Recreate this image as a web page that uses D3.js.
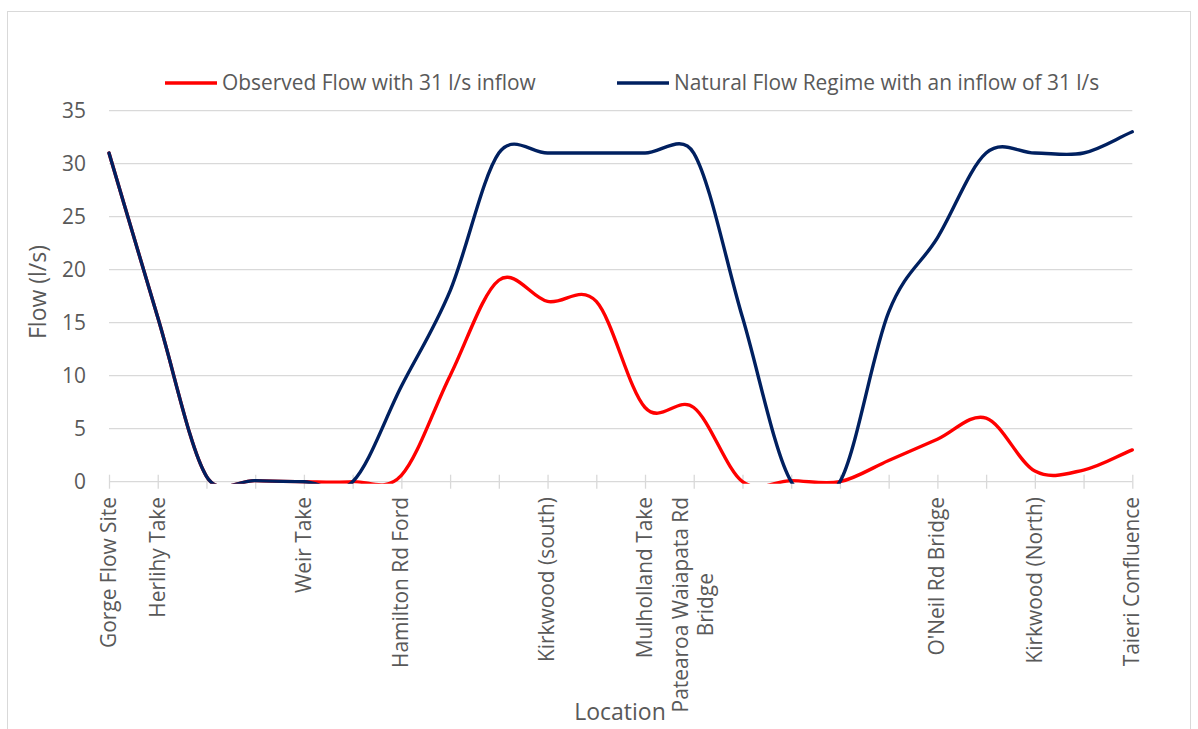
<!DOCTYPE html>
<html>
<head>
<meta charset="utf-8">
<script src="https://cdn.jsdelivr.net/npm/d3@7"></script>
<style>
  html, body { margin: 0; padding: 0; background: #fff; }
  svg text { font-family: "Open Sans", "Liberation Sans", sans-serif; fill: #595959; }
</style>
</head>
<body>
<svg id="chart" width="1198" height="729"></svg>
<script>
// Monitoring locations along the river, upstream to downstream
const categories = [
  "Gorge Flow Site", "Herlihy Take", "", "", "Weir Take", "", "Hamilton Rd Ford",
  "", "", "Kirkwood (south)", "", "Mulholland Take", "Patearoa Waiapata Rd Bridge",
  "", "", "", "", "O'Neil Rd Bridge", "", "Kirkwood (North)", "", "Taieri Confluence"
];

// Flow (l/s) at each location
const observedFlow = [31, 15.5, 0.5, 0.1, 0, 0, 0.6, 10, 19, 17, 17, 7, 7, 0, 0.1, 0, 2, 4, 6, 1, 1.1, 3];
const naturalFlow  = [31, 15.5, 0.5, 0.1, 0, 0, 9, 18, 31, 31, 31, 31, 31, 15.5, 0, 0, 16, 23, 31, 31, 31, 33];

const seriesNames = ["Observed Flow with 31 l/s inflow", "Natural Flow Regime with an inflow of 31 l/s"];
const seriesColors = ["#FF0000", "#002060"];
const yTicks = [0, 5, 10, 15, 20, 25, 30, 35];

const svg = d3.select("#chart");
const fontSize = 20.9;
const titleSize = 23;

// Chart area border
svg.append("rect")
  .attr("x", 7.5).attr("y", 11.5)
  .attr("width", 1183).attr("height", 740)
  .attr("fill", "none").attr("stroke", "#d9d9d9").attr("stroke-width", 1);

const x = d3.scalePoint().domain(d3.range(categories.length)).range([109, 1132.3]);
const y = d3.scaleLinear().domain([0, 35]).range([481.7, 110.6]);

// Plot area clip: lines do not extend below the value axis
svg.append("defs").append("clipPath").attr("id", "plotClip")
  .append("rect")
  .attr("x", x.range()[0] - 10).attr("y", y(35) - 10)
  .attr("width", x.range()[1] - x.range()[0] + 20)
  .attr("height", y(0) - y(35) + 12);

// Horizontal gridlines
svg.append("g").selectAll("line").data(yTicks.filter(d => d > 0)).join("line")
  .attr("x1", x.range()[0]).attr("x2", x.range()[1])
  .attr("y1", d => y(d)).attr("y2", d => y(d))
  .attr("stroke", "#d9d9d9").attr("stroke-width", 1.3);

// Y axis labels
const yAxis = svg.append("g").attr("transform", `translate(86,0)`)
  .call(d3.axisLeft(y).tickValues(yTicks).tickSize(0).tickPadding(0));
yAxis.select(".domain").remove();
yAxis.selectAll("text").style("font-size", fontSize + "px").attr("fill", "#595959")
  .style("font-family", "'Open Sans', sans-serif");

// X axis with crossing tick marks
const xAxisG = svg.append("g").attr("transform", `translate(0,${y(0)})`)
  .call(d3.axisBottom(x).tickSize(7).tickFormat(""));
xAxisG.select(".domain").attr("stroke", "#d9d9d9").attr("stroke-width", 1.3)
  .attr("d", `M${x.range()[0]},0H${x.range()[1]}`);
xAxisG.selectAll(".tick line").attr("stroke", "#d9d9d9").attr("stroke-width", 1.3)
  .attr("y1", -7).attr("y2", 7);

// Rotated category labels, wrapped when too long
const labelTop = 497;
const maxLabelLen = 232;
const labelG = svg.append("g");
const measure = svg.append("text").style("font-size", fontSize + "px").attr("opacity", 0);
function textLen(s) { measure.text(s); return measure.node().getComputedTextLength(); }
function wrap(label) {
  const words = label.split(" ");
  const lines = [];
  let cur = "";
  words.forEach(w => {
    const trial = cur ? cur + " " + w : w;
    if (cur && textLen(trial) > maxLabelLen) { lines.push(cur); cur = w; }
    else cur = trial;
  });
  if (cur) lines.push(cur);
  return lines;
}
const lineH = 25;
categories.forEach((c, i) => {
  if (!c) return;
  const lines = wrap(c);
  const blockLen = d3.max(lines, textLen);
  const cx = x(i);
  lines.forEach((ln, k) => {
    const off = (k - (lines.length - 1) / 2) * lineH;
    labelG.append("text")
      .attr("transform", `translate(${cx + off + fontSize * 0.33},${labelTop + blockLen / 2}) rotate(-90)`)
      .attr("text-anchor", "middle")
      .style("font-size", fontSize + "px")
      .text(ln);
  });
});
measure.remove();

// Smoothed line path in the style of spreadsheet "smoothed line" charts
function smoothPath(pts) {
  const n = pts.length;
  const dist = (a, b) => Math.hypot(a[0] - b[0], a[1] - b[1]);
  let d = `M${pts[0][0]},${pts[0][1]}`;
  for (let i = 0; i < n - 1; i++) {
    const p0 = pts[Math.max(i - 1, 0)], p1 = pts[i], p2 = pts[i + 1], p3 = pts[Math.min(i + 2, n - 1)];
    const d02 = dist(p0, p2), d12 = dist(p1, p2), d13 = dist(p1, p3);
    let f = (i === 0) ? 1 / 3 : 1 / 6;
    let g = (i + 2 > n - 1) ? 1 / 3 : 1 / 6;
    if (d02 * f >= d12 / 2 && d02 > 0) f = d12 / d02 / 2;
    if (d13 * g >= d12 / 2 && d13 > 0) g = d12 / d13 / 2;
    const c1 = [p1[0] + f * (p2[0] - p0[0]), p1[1] + f * (p2[1] - p0[1])];
    const c2 = [p2[0] - g * (p3[0] - p1[0]), p2[1] - g * (p3[1] - p1[1])];
    d += `C${c1[0]},${c1[1]} ${c2[0]},${c2[1]} ${p2[0]},${p2[1]}`;
  }
  return d;
}

const linesG = svg.append("g").attr("clip-path", "url(#plotClip)");
[observedFlow, naturalFlow].forEach((vals, s) => {
  const pts = vals.map((v, i) => [x(i), y(v)]);
  linesG.append("path")
    .attr("d", smoothPath(pts))
    .attr("fill", "none")
    .attr("stroke", seriesColors[s])
    .attr("stroke-width", 3.4)
    .attr("stroke-linejoin", "round")
    .attr("stroke-linecap", "round");
});

// Legend
const legendItems = [{ x: 165 }, { x: 617 }];
legendItems.forEach((it, s) => {
  svg.append("line")
    .attr("x1", it.x).attr("x2", it.x + 52)
    .attr("y1", 83).attr("y2", 83)
    .attr("stroke", seriesColors[s]).attr("stroke-width", 3.4);
  svg.append("text")
    .attr("x", it.x + 57).attr("y", 83).attr("dy", "0.35em")
    .style("font-size", fontSize + "px")
    .text(seriesNames[s]);
});

// Axis titles
svg.append("text")
  .attr("transform", `translate(46,292) rotate(-90)`)
  .attr("text-anchor", "middle")
  .style("font-size", titleSize + "px")
  .text("Flow (l/s)");
svg.append("text")
  .attr("x", 620).attr("y", 720)
  .attr("text-anchor", "middle")
  .style("font-size", titleSize + "px")
  .text("Location");
</script>
</body>
</html>
